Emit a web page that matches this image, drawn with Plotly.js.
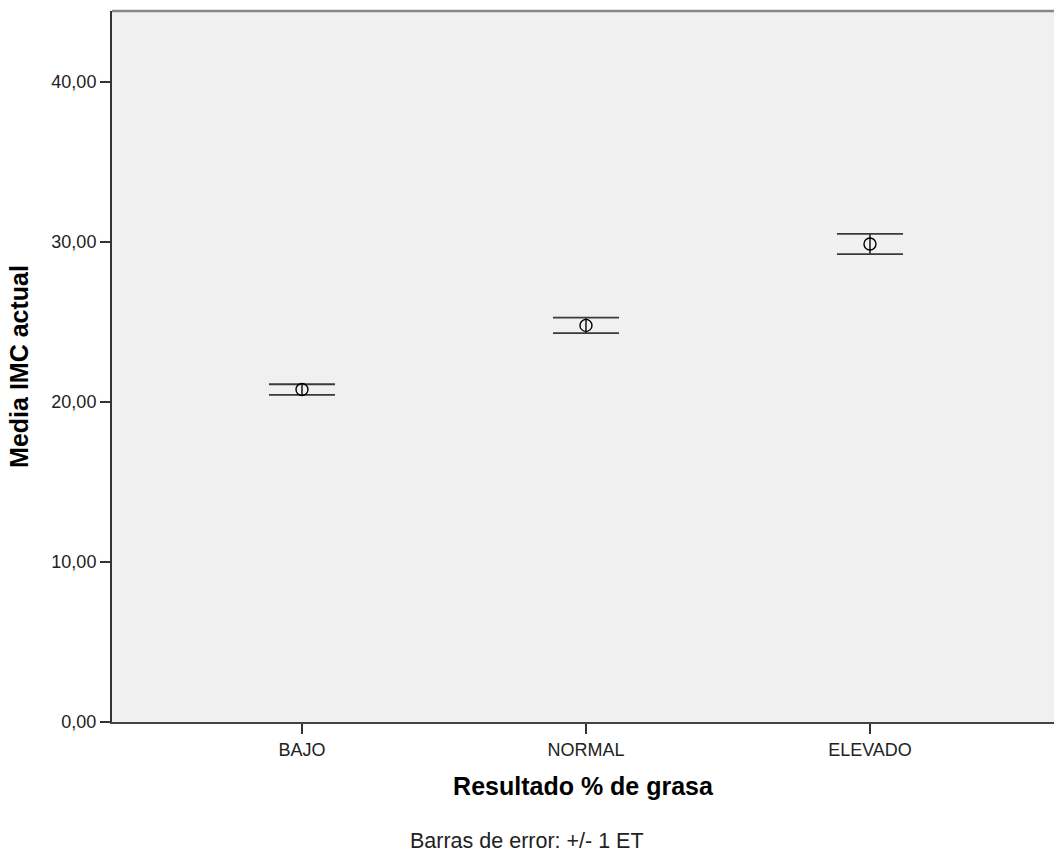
<!DOCTYPE html>
<html>
<head>
<meta charset="utf-8">
<script src="https://cdn.plot.ly/plotly-3.0.1.min.js"></script>
<style>html,body{margin:0;padding:0;background:#fff;}#chart{width:1054px;height:854px;}</style>
</head>
<body>
<div id="chart"></div>
<script>
const categories = ["BAJO", "NORMAL", "ELEVADO"];
const means = [20.78, 24.79, 29.88];
const stdErrors = [0.33, 0.49, 0.63];
const yTickVals = [0, 10, 20, 30, 40];
const yTickText = ["0,00", "10,00", "20,00", "30,00", "40,00"];

const trace = {
  type: 'scatter',
  mode: 'markers',
  x: categories,
  y: means,
  marker: {symbol: 'circle-open', size: 12, color: '#000', line: {width: 1.4, color: '#000'}},
  error_y: {type: 'data', array: stdErrors, visible: true, color: '#3a3a3a', thickness: 1.8, width: 33},
  hoverinfo: 'skip',
  showlegend: false
};

const FF = 'Liberation Sans, Arial, sans-serif';

const layout = {
  width: 1054, height: 854,
  margin: {l: 112, r: 0, t: 11, b: 132},
  paper_bgcolor: '#ffffff',
  plot_bgcolor: '#f0f0f0',
  font: {family: FF, color: '#222'},
  xaxis: {
    type: 'category',
    range: [-0.669, 2.648],
    showgrid: false, zeroline: false,
    showline: true, linecolor: '#444', linewidth: 2,
    ticks: 'outside', ticklen: 10, tickwidth: 1.8, tickcolor: '#333',
    tickfont: {family: FF, size: 18, color: '#222'},
    title: {text: 'Resultado % de grasa', font: {family: FF, size: 25, color: '#000', weight: 'bold'}, standoff: 19}
  },
  yaxis: {
    range: [0, 44.44],
    showgrid: false, zeroline: false,
    showline: true, linecolor: '#333', linewidth: 2,
    ticks: 'outside', ticklen: 10, tickwidth: 1.8, tickcolor: '#333',
    tickvals: yTickVals, ticktext: yTickText,
    tickfont: {family: FF, size: 18, color: '#222'},
    title: {text: 'Media IMC actual', font: {family: FF, size: 25, color: '#000', weight: 'bold'}, standoff: 16}
  },
  shapes: [{
    type: 'line', xref: 'paper', yref: 'paper', x0: 0, x1: 1, y0: 1, y1: 1,
    line: {color: '#888', width: 2.5}
  }],
  annotations: [{
    text: 'Barras de error: +/- 1 ET', xref: 'paper', yref: 'paper',
    x: (527 - 112) / 942, y: -(841 - 722) / 711, xanchor: 'center', yanchor: 'middle',
    showarrow: false, font: {family: FF, size: 21.5, color: '#222'}
  }]
};

Plotly.newPlot('chart', [trace], layout, {displayModeBar: false, staticPlot: true});
</script>
</body>
</html>
